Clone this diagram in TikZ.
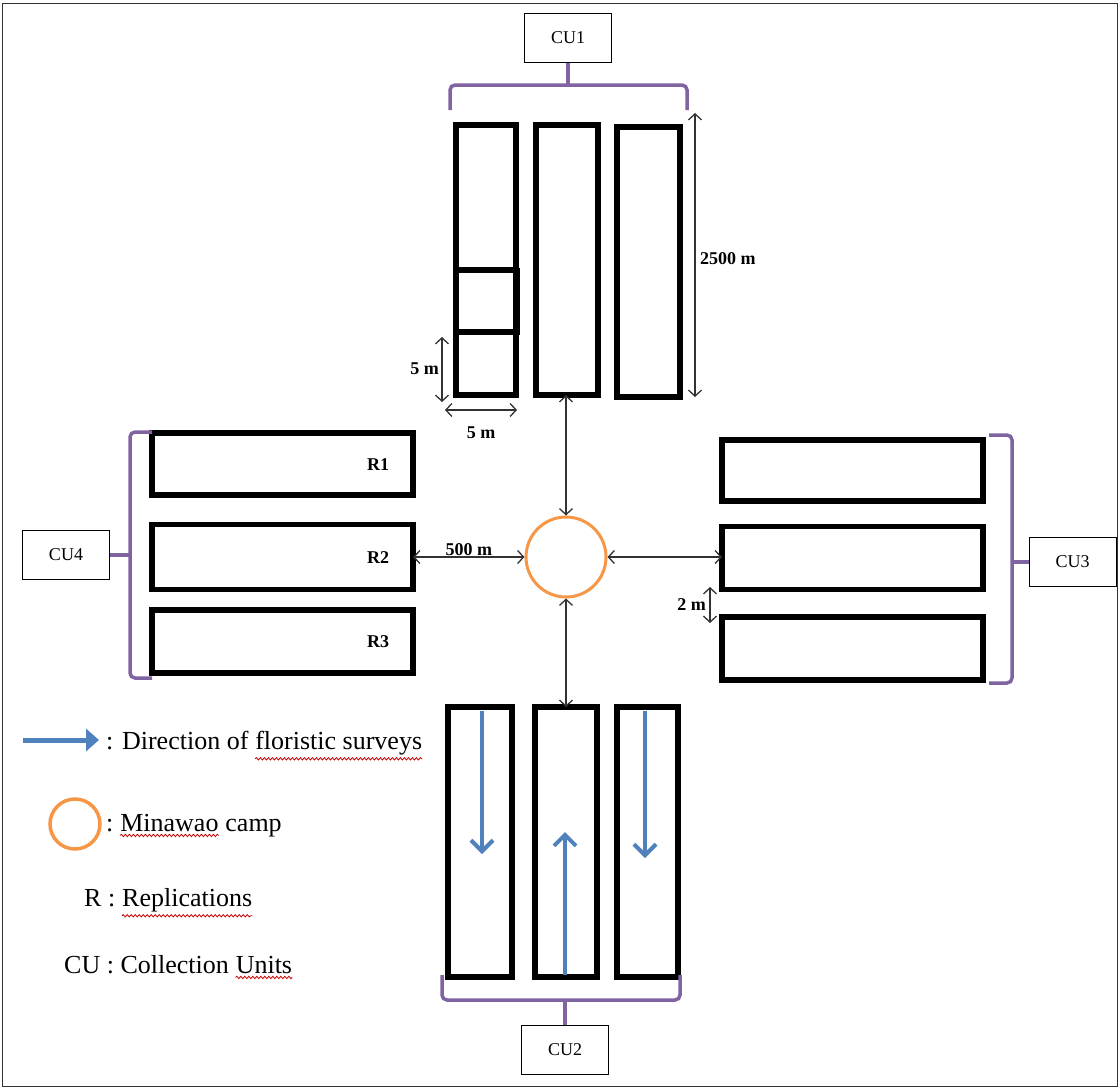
\documentclass[tikz,border=0pt]{standalone}
\usepackage{fontspec}
\setmainfont{Liberation Serif}
\usetikzlibrary{arrows.meta,decorations.pathmorphing}
\definecolor{brk}{HTML}{8064A2}
\definecolor{camp}{HTML}{F79646}
\definecolor{flow}{HTML}{4F81BD}
\definecolor{dimc}{HTML}{333333}
\newcommand{\legsp}{\kern0.25em}
\tikzset{
  plot/.style={draw=black,line width=5.5pt,inner sep=0pt,outer sep=0pt},
  cubox/.style={draw=black,line width=1pt,inner sep=0pt,minimum width=87pt,minimum height=49pt,font=\fontsize{18}{21}\selectfont},
  bracket/.style={draw=brk,line width=3.5pt,rounded corners=5pt},
  stem/.style={draw=brk,line width=3.5pt},
  dimarrow/.style={draw=dimc,line width=1.3pt,{Straight Barb[length=6pt,width=13pt,line width=1.3pt]}-{Straight Barb[length=6pt,width=13pt,line width=1.3pt]}},
  flowarrow/.style={draw=flow,line width=4pt,-{Straight Barb[length=11pt,width=22pt,line width=4pt]}},
  boldlbl/.style={font=\bfseries\fontsize{18}{20}\selectfont,inner sep=1pt},
  legend/.style={font=\fontsize{26}{30}\selectfont,anchor=base west,inner sep=0pt},
  squiggle/.style={draw=red!80!black,line width=0.8pt,decorate,decoration={snake,amplitude=1.2pt,segment length=4pt}}
}
\begin{document}
\begin{tikzpicture}[x=1pt,y=-1pt]
\useasboundingbox (0,0) rectangle (1119,1088);
\draw[line width=1pt,black!80] (2,3) rectangle (1117,1086);

% camp
\node[draw=camp,line width=3pt,circle,minimum size=80pt,inner sep=0pt] (camp) at (566,557) {};

% CU1 (top)
\node[plot,minimum width=60pt,minimum height=270pt] (t1) at (486,260) {};
\node[plot,minimum width=62pt,minimum height=270pt] (t2) at (567,260) {};
\node[plot,minimum width=63pt,minimum height=270pt] (t3) at (648.5,262) {};
\draw[line width=5.5pt] (456,270) -- (519,270);
\draw[line width=5.5pt] (456,332) -- (519,332);
\draw[line width=5.5pt] (517,267.5) -- (517,334.5);
\node[cubox] (cu1) at (568,38) {CU1};
\coordinate (tbs) at (568,85);
\draw[bracket] (450,110) -- (450,85) -- (687,85) -- (687,110);
\draw[stem] (cu1.south) -- (tbs);

% CU4 (left)
\node[plot,minimum width=261pt,minimum height=62pt] (l1) at (282.5,464) {};
\node[plot,minimum width=261pt,minimum height=65pt] (l2) at (282.5,557) {};
\node[plot,minimum width=261pt,minimum height=63pt] (l3) at (282.5,641.5) {};
\node[boldlbl] at (378,465) {R1};
\node[boldlbl] at (378,558) {R2};
\node[boldlbl] at (378,642) {R3};
\node[cubox] (cu4) at (66,555) {CU4};
\coordinate (lbs) at (130,555);
\draw[bracket] (152,432) -- (130,432) -- (130,678) -- (152,678);
\draw[stem] (cu4.east) -- (lbs);

% CU3 (right)
\node[plot,minimum width=261pt,minimum height=61pt] (r1) at (852.5,470.5) {};
\node[plot,minimum width=261pt,minimum height=63pt] (r2) at (852.5,558) {};
\node[plot,minimum width=261pt,minimum height=63pt] (r3) at (852.5,648.5) {};
\node[cubox] (cu3) at (1072.5,562) {CU3};
\coordinate (rbs) at (1012,562);
\draw[bracket] (989,435) -- (1012,435) -- (1012,683) -- (989,683);
\draw[stem] (cu3.west) -- (rbs);

% CU2 (bottom)
\node[plot,minimum width=64pt,minimum height=270pt] (b1) at (480,842) {};
\node[plot,minimum width=62pt,minimum height=270pt] (b2) at (566,842) {};
\node[plot,minimum width=61pt,minimum height=270pt] (b3) at (647.5,842) {};
\node[cubox] (cu2) at (565,1050) {CU2};
\coordinate (bbs) at (565,1000);
\draw[bracket] (442,975) -- (442,1000) -- (680,1000) -- (680,975);
\draw[stem] (cu2.north) -- (bbs);

% flow arrows
\coordinate (f1a) at (482,711); \coordinate (f1b) at (482,854);
\coordinate (f2a) at (565,975); \coordinate (f2b) at (565,832);
\coordinate (f3a) at (645,711); \coordinate (f3b) at (645,858);
\draw[flowarrow] (f1a) -- (f1b);
\draw[flowarrow] (f2a) -- (f2b);
\draw[flowarrow] (f3a) -- (f3b);

% connectors to camp
\draw[dimarrow] (camp.north |- t2.south) -- (camp.north);
\draw[dimarrow] (camp.south) -- (camp.south |- b2.north);
\draw[dimarrow] (l2.east) -- node[boldlbl,above=0pt] {500 m} (camp.west);
\draw[dimarrow] (camp.east) -- (camp.east -| r2.west);

% dimensions
\coordinate (d1a) at (695,113); \coordinate (d1b) at (695,397);
\draw[dimarrow] (d1a) -- (d1b);
\node[boldlbl,anchor=west] at (699,259) {2500 m};
\coordinate (d2a) at (442,337); \coordinate (d2b) at (442,402);
\draw[dimarrow] (d2a) -- (d2b);
\node[boldlbl,anchor=east] at (440,369) {5 m};
\coordinate (d3a) at (445,410); \coordinate (d3b) at (517,410);
\draw[dimarrow] (d3a) -- (d3b);
\node[boldlbl] at (481,433) {5 m};
\coordinate (d4a) at (710,587); \coordinate (d4b) at (710,623);
\draw[dimarrow] (d4a) -- (d4b);
\node[boldlbl,anchor=east] at (707,605) {2 m};

% legend
\coordinate (la) at (23,740); \coordinate (lb) at (99,740);
\draw[draw=flow,line width=5pt,-{Triangle[length=13pt,width=22pt]}] (la) -- (lb);
\node[legend] (lg1a) at (106,749) {: Direction of\legsp};
\node[legend] (lg1b) at (lg1a.base east) {floristic surveys};
\node[draw=camp,line width=3.5pt,circle,minimum size=50pt,inner sep=0pt] (lgc) at (75,824) {};
\node[legend] (lg2a) at (106,831) {:\legsp};
\node[legend] (lg2b) at (lg2a.base east) {Minawao};
\node[legend] (lg2c) at (lg2b.base east) {\legsp camp};
\node[legend] (lg3a) at (84,906) {R :\legsp};
\node[legend] (lg3b) at (lg3a.base east) {Replications};
\node[legend] (lg4a) at (64,973) {CU : Collection\legsp};
\node[legend] (lg4b) at (lg4a.base east) {Units};
\draw[squiggle] ([yshift=-4pt]lg1b.south west) -- ([yshift=-4pt]lg1b.south east);
\draw[squiggle] ([yshift=-4pt]lg2b.south west) -- ([yshift=-4pt]lg2b.south east);
\draw[squiggle] ([yshift=-4pt]lg3b.south west) -- ([yshift=-4pt]lg3b.south east);
\draw[squiggle] ([yshift=-4pt]lg4b.south west) -- ([yshift=-4pt]lg4b.south east);
\end{tikzpicture}
\end{document}
